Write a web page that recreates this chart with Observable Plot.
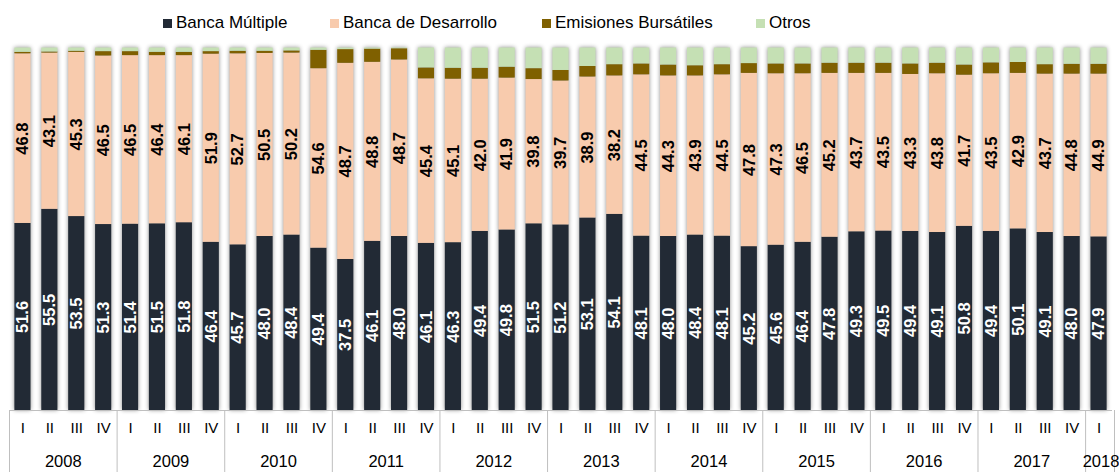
<!DOCTYPE html>
<html>
<head>
<meta charset="utf-8">
<script src="https://cdn.jsdelivr.net/npm/d3@7"></script>
<script src="https://cdn.jsdelivr.net/npm/@observablehq/plot@0.6"></script>
<style>
  html, body { margin: 0; padding: 0; background: #fff; }
  body { width: 1119px; height: 472px; overflow: hidden; font-family: "Liberation Sans", Arial, sans-serif; }
  #legend { position: relative; height: 40px; width: 1119px; }
  .item { position: absolute; top: 13px; height: 20px; font-size: 17px; color: #000; display: flex; align-items: center; white-space: nowrap; }
  .sw { width: 9px; height: 9px; margin-right: 4px; display: inline-block; }
  #chart g[aria-label="bar"] { filter: drop-shadow(0 0 2px rgba(0,0,0,0.45)); }
</style>
</head>
<body>
<div id="legend"></div>
<div id="chart"></div>
<script>
// ---- data ----
const years = ["2008","2009","2010","2011","2012","2013","2014","2015","2016","2017","2018"];
const quarterLabels = ["I","II","III","IV"];
const series = ["Banca Múltiple","Banca de Desarrollo","Emisiones Bursátiles","Otros"];
const colors = ["#222a35","#f8cbad","#7f6000","#c5e0b4"];

const bancaMultiple = [51.6,55.5,53.5,51.3, 51.4,51.5,51.8,46.4, 45.7,48.0,48.4,49.4, 37.5,46.1,48.0,46.1,
  46.3,49.4,49.8,51.5, 51.2,53.1,54.1,48.1, 48.0,48.4,48.1,45.2, 45.6,46.4,47.8,49.3, 49.5,49.4,49.1,50.8,
  49.4,50.1,49.1,48.0, 47.9];
const bancaDesarrollo = [46.8,43.1,45.3,46.5, 46.5,46.4,46.1,51.9, 52.7,50.5,50.2,54.6, 48.7,48.8,48.7,45.4,
  45.1,42.0,41.9,39.8, 39.7,38.9,38.2,44.5, 44.3,43.9,44.5,47.8, 47.3,46.5,45.2,43.7, 43.5,43.3,43.8,41.7,
  43.5,42.9,43.7,44.8, 44.9];
const emisiones = [0.4,0.3,0.3,1.2, 1.1,0.9,0.9,0.7, 0.7,0.6,0.6,5.6, 3.4,3.6,3.1,3.0,
  3.0,3.0,3.0,3.0, 2.9,2.9,3.1,3.0, 3.0,2.8,2.8,2.7, 2.7,2.7,2.8,2.8, 2.8,2.9,2.9,2.8,
  3.0,3.0,2.6,2.7, 2.7];
const otros = [1.2,1.1,0.9,1.0, 1.0,1.2,1.2,1.0, 0.9,0.9,0.8,0.7, 0.4,0.3,0.2,5.5,
  5.6,5.6,5.3,5.7, 6.2,5.1,4.6,4.4, 4.7,4.9,4.6,4.3, 4.4,4.4,4.2,4.2, 4.2,4.4,4.2,4.7,
  4.1,4.0,4.6,4.5, 4.5];

// ---- build table ----
const periods = [];
years.forEach(y => quarterLabels.forEach(q => periods.push({year: y, q, key: y + "-" + q})));
periods.length = bancaMultiple.length; // 2008-I .. 2018-I
const keys = periods.map(p => p.key);
const seriesValues = [bancaMultiple, bancaDesarrollo, emisiones, otros];
const table = [];
periods.forEach((p, i) => series.forEach((s, j) => table.push({period: p.key, serie: s, value: seriesValues[j][i]})));

// ---- legend ----
const legendX = [163, 330, 542, 756];
const legend = document.getElementById("legend");
series.forEach((s, i) => {
  const d = document.createElement("div");
  d.className = "item";
  d.style.left = legendX[i] + "px";
  d.innerHTML = `<span class="sw" style="background:${colors[i]}"></span>${s}`;
  legend.appendChild(d);
});

// ---- chart ----
const W = 1119, H = 432, mL = 9, mR = 7, mT = 7.5, mB = 62;
const step = (W - mL - mR) / keys.length;
const firstOfYear = periods.filter(p => p.q === "I");
const fullYears = years.filter(y => periods.filter(p => p.year === y).length === 4).map(y => ({year: y, key: y + "-III"}));
const partialYears = years.filter(y => periods.filter(p => p.year === y).length < 4).map(y => ({year: y, key: y + "-I"}));
const stackOpts = {x: "period", y: "value", z: "serie", order: series, offset: "normalize"};
const font = "Liberation Sans, Arial, sans-serif";
const axisColor = "#bfbfbf";

const chart = Plot.plot({
  width: W, height: H,
  marginLeft: mL, marginRight: mR, marginTop: mT, marginBottom: mB,
  style: {fontFamily: font, background: "white"},
  x: {domain: keys, paddingInner: 0.4, paddingOuter: 0.2, axis: null},
  y: {domain: [0, 1], axis: null},
  color: {domain: series, range: colors},
  marks: [
    Plot.barY(table, Plot.stackY({...stackOpts, fill: "serie"})),
    Plot.text(table, Plot.stackY({...stackOpts,
      text: d => d.serie === series[0] ? d.value.toFixed(1) : "",
      rotate: -90, fill: "white", fontWeight: "bold", fontSize: 16.5, fontFamily: font})),
    Plot.text(table, Plot.stackY({...stackOpts,
      text: d => d.serie === series[1] ? d.value.toFixed(1) : "",
      rotate: -90, fill: "black", fontWeight: "bold", fontSize: 16.5, fontFamily: font})),
    // axis box
    Plot.ruleY([0], {stroke: axisColor, strokeWidth: 1}),
    Plot.ruleX(firstOfYear, {x: "key", dx: -step / 2, stroke: axisColor, insetTop: H - mT - mB, insetBottom: -mB}),
    Plot.ruleX([keys[keys.length - 1]], {dx: step / 2 + 2, stroke: axisColor, insetTop: H - mT - mB, insetBottom: -mB}),
    // quarter labels
    Plot.text(periods, {x: "key", text: "q", frameAnchor: "bottom", dy: 22, fontSize: 15, fill: "#000", fontFamily: font}),
    // year labels
    Plot.text(fullYears, {x: "key", text: "year", frameAnchor: "bottom", dy: 56, dx: -step / 2, fontSize: 16.5, fill: "#000", fontFamily: font}),
    Plot.text(partialYears, {x: "key", text: "year", frameAnchor: "bottom", dy: 56, dx: 2, fontSize: 16.5, fill: "#000", fontFamily: font})
  ]
});
document.getElementById("chart").appendChild(chart);
</script>
</body>
</html>
